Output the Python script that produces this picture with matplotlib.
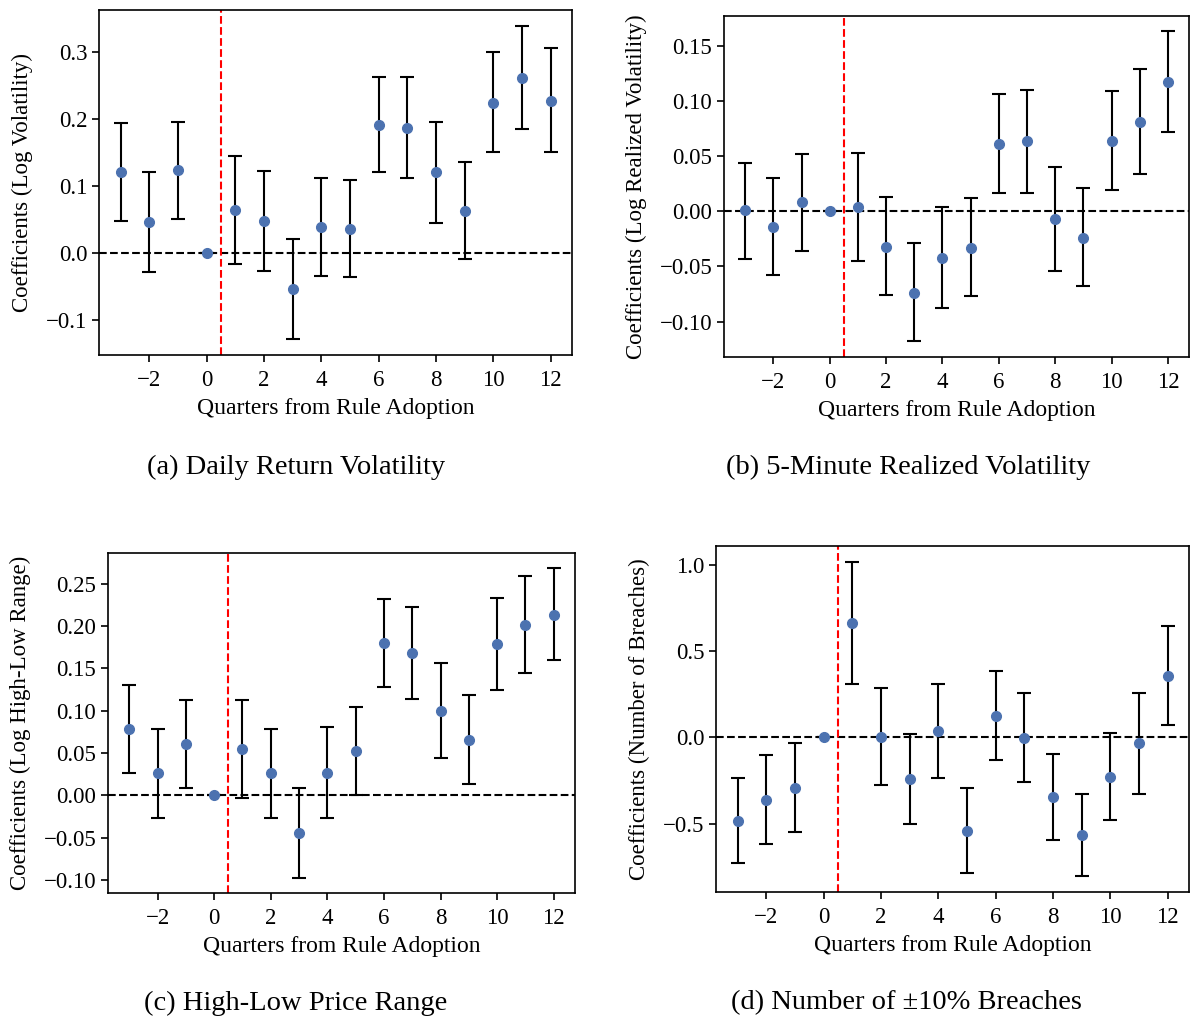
import matplotlib
matplotlib.use("Agg")
import matplotlib.pyplot as plt
from matplotlib.ticker import MultipleLocator
import numpy as np

plt.rcParams["font.family"] = ["Liberation Serif", "DejaVu Serif"]
plt.rcParams["mathtext.fontset"] = "stix"

quarters = np.arange(-3, 13)

# (a) Daily return volatility
coef_a = [0.121, 0.046, 0.123, 0.0, 0.064, 0.047, -0.054, 0.039, 0.036,
          0.191, 0.187, 0.120, 0.063, 0.224, 0.261, 0.227]
lo_a = [0.048, -0.028, 0.050, 0.0, -0.016, -0.027, -0.129, -0.034, -0.036,
        0.120, 0.112, 0.044, -0.009, 0.150, 0.185, 0.150]
hi_a = [0.194, 0.121, 0.195, 0.0, 0.144, 0.122, 0.021, 0.112, 0.108,
        0.263, 0.263, 0.195, 0.135, 0.299, 0.339, 0.305]

# (b) 5-minute realized volatility
coef_b = [0.001, -0.014, 0.008, 0.0, 0.004, -0.032, -0.074, -0.042, -0.033,
          0.061, 0.064, -0.007, -0.024, 0.064, 0.081, 0.117]
lo_b = [-0.043, -0.058, -0.036, 0.0, -0.045, -0.076, -0.118, -0.088, -0.077,
        0.017, 0.017, -0.054, -0.068, 0.019, 0.034, 0.072]
hi_b = [0.044, 0.030, 0.052, 0.0, 0.053, 0.013, -0.029, 0.004, 0.012,
        0.106, 0.110, 0.040, 0.021, 0.109, 0.129, 0.163]

# (c) High-low price range
coef_c = [0.078, 0.026, 0.061, 0.0, 0.055, 0.026, -0.044, 0.027, 0.052,
          0.180, 0.168, 0.100, 0.066, 0.179, 0.201, 0.213]
lo_c = [0.026, -0.027, 0.009, 0.0, -0.003, -0.027, -0.097, -0.027, 0.000,
        0.128, 0.114, 0.044, 0.013, 0.125, 0.144, 0.160]
hi_c = [0.130, 0.079, 0.113, 0.0, 0.113, 0.079, 0.009, 0.081, 0.104,
        0.232, 0.223, 0.156, 0.119, 0.233, 0.259, 0.268]

# (d) Number of +/-10% breaches
coef_d = [-0.483, -0.363, -0.292, 0.0, 0.662, 0.002, -0.243, 0.035, -0.541,
          0.124, -0.002, -0.346, -0.566, -0.230, -0.035, 0.357]
lo_d = [-0.728, -0.620, -0.548, 0.0, 0.307, -0.278, -0.504, -0.238, -0.786,
        -0.133, -0.257, -0.595, -0.805, -0.481, -0.326, 0.073]
hi_d = [-0.236, -0.104, -0.031, 0.0, 1.017, 0.286, 0.019, 0.309, -0.292,
        0.382, 0.255, -0.097, -0.326, 0.027, 0.257, 0.645]

W, H = 1191, 1021
fig = plt.figure(figsize=(W / 100, H / 100), dpi=100)


def panel(box, coef, lo, hi, ystep, ylabel, caption, cap_x, cap_y):
    left, top, right, bottom = box
    ax = fig.add_axes([left / W, 1 - bottom / H, (right - left) / W, (bottom - top) / H])
    coef = np.array(coef)
    yerr = [coef - np.array(lo), np.array(hi) - coef]
    ax.errorbar(quarters, coef, yerr=yerr, fmt="o", color="#4C72B0",
                ecolor="black", elinewidth=1.5, capsize=5, capthick=1.5,
                markersize=7, zorder=3)
    ax.axhline(0, color="black", linestyle="--", linewidth=1.5)
    ax.axvline(0.5, color="red", linestyle="--", linewidth=1.5)
    ax.set_xticks(range(-2, 13, 2))
    ax.yaxis.set_major_locator(MultipleLocator(ystep))
    ax.set_xlabel("Quarters from Rule Adoption", fontsize=17, labelpad=5)
    ax.set_ylabel(ylabel, fontsize=16.5, labelpad=9)
    ax.tick_params(labelsize=16.5, width=1.2, length=5)
    ax.tick_params(axis="x", pad=6)
    for s in ax.spines.values():
        s.set_linewidth(1.2)
    fig.text(cap_x / W, 1 - cap_y / H, caption, fontsize=20.5,
             ha="center", va="center")
    return ax


panel((99, 10, 572, 355), coef_a, lo_a, hi_a, 0.1,
      "Coefficients (Log Volatility)", "(a) Daily Return Volatility", 296, 467)
panel((724, 16, 1189, 357), coef_b, lo_b, hi_b, 0.05,
      "Coefficients (Log Realized Volatility)", "(b) 5-Minute Realized Volatility", 908, 467)
panel((108, 553, 575, 893), coef_c, lo_c, hi_c, 0.05,
      "Coefficients (Log High-Low Range)", "(c) High-Low Price Range", 296, 1003)
panel((716, 546, 1189, 892), coef_d, lo_d, hi_d, 0.5,
      "Coefficients (Number of Breaches)", "(d) Number of ±10% Breaches", 906, 1003)

fig.savefig("out.png", dpi=100)
